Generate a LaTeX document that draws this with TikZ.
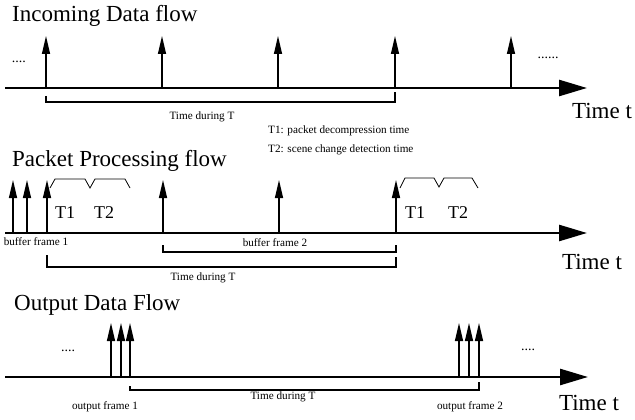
\documentclass[tikz,border=0pt]{standalone}
\usepackage{fontspec}
\setmainfont{Liberation Serif}
\usetikzlibrary{arrows.meta}

\tikzset{
  axisline/.style={line width=2.6pt, -{Triangle[length=28pt,width=16pt]}},
  pulse/.style={line width=1.3pt, -{Triangle[length=18pt,width=8pt]}},
  spanline/.style={line width=1.2pt},
  bracefig/.style={line width=0.8pt, line join=miter},
  heading/.style={anchor=base west, inner sep=0pt, font=\fontsize{23}{23}\selectfont},
  timelabel/.style={inner sep=0pt, font=\fontsize{23}{23}\selectfont},
  tlabel/.style={inner sep=0pt, font=\fontsize{18}{18}\selectfont},
  small/.style={inner sep=0pt, font=\fontsize{11.2}{11.2}\selectfont},
  dots/.style={anchor=base, inner sep=0pt, font=\fontsize{14}{14}\selectfont}
}

\begin{document}
\begin{tikzpicture}[x=1pt, y=-1pt]
\useasboundingbox (0,0) rectangle (635,420);

% ---------------- Incoming data flow ----------------
\node[heading] (h1) at (12,22) {Incoming Data flow};
\coordinate (a1s) at (5,88);
\coordinate (a1e) at (587,88);
\draw[axisline] (a1s) -- (a1e);
\foreach \x [count=\i] in {46,162,278,395,511} {
  \coordinate (p1b\i) at (\x,88);
  \coordinate (p1t\i) at (\x,36);
  \draw[pulse] (p1b\i) -- (p1t\i);
}
\node[dots] (d1l) at (19,63) {....};
\node[dots] (d1r) at (548,59) {......};
% span of one period T
\coordinate (s1a) at (46,96);
\coordinate (s1b) at (46,102);
\coordinate (s1c) at (395,102);
\coordinate (s1d) at (395,92);
\draw[spanline] (s1a) -- (s1b) -- (s1c) -- (s1d);
\node[small] (tdT1) at (202,117) {Time during T};
\node[timelabel] (tt1) at (602,111) {Time t};

% legend
\node[small, anchor=west] (leg1) at (268,131) {T1: packet decompression time};
\node[small, anchor=west] (leg2) at (268,150) {T2: scene change detection time};

% ---------------- Packet processing flow ----------------
\node[heading] (h2) at (12,166) {Packet Processing flow};
\coordinate (a2s) at (5,233);
\coordinate (a2e) at (587,233);
\draw[axisline] (a2s) -- (a2e);
\foreach \x [count=\i] in {13,27,47,163,279,396} {
  \coordinate (p2b\i) at (\x,233);
  \coordinate (p2t\i) at (\x,180);
  \draw[pulse] (p2b\i) -- (p2t\i);
}
% processing intervals T1 / T2
\draw[bracefig] (50,188) -- (55,179) -- (85,179) -- (90,188) -- (95,179) -- (125,179) -- (130,188);
\draw[bracefig] (400,188) -- (405,178) -- (434,178) -- (439,187) -- (444,178) -- (472,178) -- (478,188);
\node[tlabel] (t1a) at (65,213) {T1};
\node[tlabel] (t2a) at (104,213) {T2};
\node[tlabel] (t1b) at (415,213) {T1};
\node[tlabel] (t2b) at (458,213) {T2};
\node[small] (bf1) at (36,242) {buffer frame 1};
\node[small] (bf2) at (275,243) {buffer frame 2};
% buffer frame 2 span
\coordinate (s2a) at (163,245);
\coordinate (s2b) at (163,252);
\coordinate (s2c) at (396,252);
\coordinate (s2d) at (396,245);
\draw[spanline] (s2a) -- (s2b) -- (s2c) -- (s2d);
% period T span
\coordinate (s3a) at (47,255);
\coordinate (s3b) at (47,267);
\coordinate (s3c) at (396,267);
\coordinate (s3d) at (396,257);
\draw[spanline] (s3a) -- (s3b) -- (s3c) -- (s3d);
\node[small] (tdT2) at (203,278) {Time during T};
\node[timelabel] (tt2) at (592,262) {Time t};

% ---------------- Output data flow ----------------
\node[heading] (h3) at (14,310) {Output Data Flow};
\coordinate (a3s) at (5,377);
\coordinate (a3e) at (588,377);
\draw[axisline] (a3s) -- (a3e);
\foreach \x [count=\i] in {111,121,130,459,469,479} {
  \coordinate (p3b\i) at (\x,377);
  \coordinate (p3t\i) at (\x,323);
  \draw[pulse] (p3b\i) -- (p3t\i);
}
\node[dots] (d3l) at (68,351) {....};
\node[dots] (d3r) at (528,350) {....};
\coordinate (s4a) at (130,386);
\coordinate (s4b) at (130,390);
\coordinate (s4c) at (479,390);
\coordinate (s4d) at (479,382);
\draw[spanline] (s4a) -- (s4b) -- (s4c) -- (s4d);
\node[small] (of1) at (105,407) {output frame 1};
\node[small] (tdT3) at (283,397) {Time during T};
\node[small] (of2) at (470,407) {output frame 2};
\node[timelabel] (tt3) at (589,403) {Time t};
\end{tikzpicture}
\end{document}
